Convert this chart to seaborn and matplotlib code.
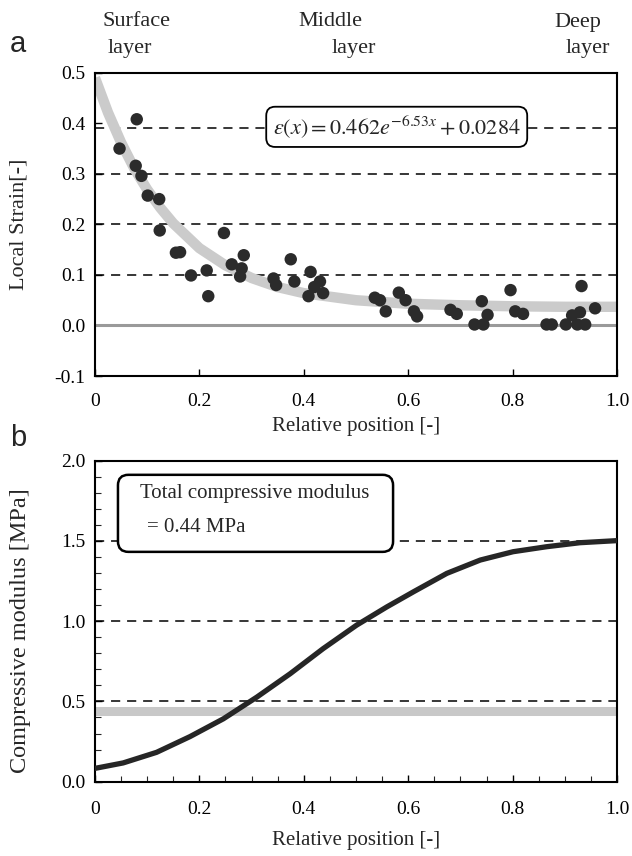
import numpy as np
import pandas as pd
import matplotlib
matplotlib.use("Agg")
import matplotlib.pyplot as plt
import seaborn as sns
from matplotlib.patches import FancyBboxPatch
from matplotlib.ticker import MultipleLocator, FuncFormatter

# ===== DATA =====
# panel a: measured local strain vs relative position
pos_a = [0.047, 0.080, 0.078, 0.089, 0.101, 0.123, 0.124, 0.155, 0.163, 0.184,
         0.214, 0.217, 0.247, 0.262, 0.285, 0.281, 0.278, 0.342, 0.347, 0.375,
         0.382, 0.413, 0.431, 0.420, 0.409, 0.437, 0.536, 0.546, 0.557, 0.582,
         0.595, 0.611, 0.617, 0.681, 0.693, 0.727, 0.744, 0.741, 0.752, 0.796,
         0.805, 0.820, 0.865, 0.875, 0.902, 0.932, 0.914, 0.929, 0.924, 0.939,
         0.958]
strain = [0.350, 0.408, 0.316, 0.296, 0.257, 0.250, 0.188, 0.144, 0.145, 0.099,
          0.109, 0.058, 0.183, 0.121, 0.139, 0.113, 0.097, 0.093, 0.080, 0.131,
          0.087, 0.106, 0.087, 0.076, 0.058, 0.064, 0.055, 0.050, 0.028, 0.065,
          0.050, 0.028, 0.018, 0.031, 0.023, 0.002, 0.002, 0.048, 0.021, 0.070,
          0.028, 0.023, 0.002, 0.002, 0.002, 0.078, 0.020, 0.026, 0.002, 0.002,
          0.034]

# fitted curve (grey band)
fit_x = [0, 0.025, 0.05, 0.075, 0.1, 0.125, 0.15, 0.2, 0.25, 0.3, 0.35, 0.4,
         0.5, 0.6, 0.7, 0.8, 0.9, 1.0]
fit_y = [0.49, 0.421, 0.362, 0.311, 0.269, 0.233, 0.202, 0.153, 0.119, 0.094,
         0.076, 0.064, 0.050, 0.043, 0.040, 0.038, 0.037, 0.037]

# panel b: compressive modulus profile
pos_b = [0.0, 0.054, 0.118, 0.182, 0.246, 0.310, 0.374, 0.437, 0.501, 0.559,
         0.610, 0.674, 0.738, 0.801, 0.865, 0.929, 1.0]
modulus = [0.083, 0.117, 0.183, 0.281, 0.392, 0.527, 0.673, 0.829, 0.975, 1.089,
           1.183, 1.298, 1.381, 1.433, 1.464, 1.489, 1.502]
total_modulus = 0.44

layer_names = ["Surface", "Middle", "Deep"]

strain_df = pd.DataFrame({"pos": pos_a, "strain": strain})
fit_df = pd.DataFrame({"pos": fit_x, "strain": fit_y})
mod_df = pd.DataFrame({"pos": pos_b, "modulus": modulus})

# ===== STYLE =====
sns.set_theme(style="white")
plt.rcParams["font.family"] = ["Liberation Serif", "DejaVu Serif"]
plt.rcParams["mathtext.fontset"] = "stix"
plt.rcParams["xtick.direction"] = "in"
plt.rcParams["ytick.direction"] = "in"

fig = plt.figure(figsize=(6.32, 8.56), dpi=100)
ax1 = fig.add_axes([0.1503, 0.5607, 0.826, 0.3543])
ax2 = fig.add_axes([0.1503, 0.0868, 0.826, 0.375])

dash = (0, (6, 4.5))
fmt = FuncFormatter(lambda v, p: "0" if abs(v) < 1e-9 else f"{v:.1f}")
yfmt = FuncFormatter(lambda v, p: f"{v:.1f}".replace("-0.0", "0.0"))

# ===== PANEL A =====
for yv in [0.39, 0.3, 0.2, 0.1]:
    ax1.axhline(yv, color="black", lw=1.1, ls=dash, zorder=1)
ax1.axhline(0.0, color="#9a9a9a", lw=2.2, zorder=1)
sns.lineplot(data=fit_df, x="pos", y="strain", ax=ax1, color="#cbcbcb", lw=7.5,
             solid_capstyle="butt", zorder=2)
sns.scatterplot(data=strain_df, x="pos", y="strain", ax=ax1, color="#2b2b2b",
                s=80, edgecolor="none", zorder=3)

ax1.set_xlim(0, 1.0)
ax1.set_ylim(-0.1, 0.5)
ax1.xaxis.set_major_locator(MultipleLocator(0.2))
ax1.yaxis.set_major_locator(MultipleLocator(0.1))
ax1.xaxis.set_major_formatter(fmt)
ax1.yaxis.set_major_formatter(yfmt)
ax1.set_xlabel("Relative position [-]", fontsize=15)
ax1.set_ylabel("Local Strain[-]", fontsize=16)
ax1.xaxis.set_label_coords(0.5, -0.135)
ax1.yaxis.set_label_coords(-0.128, 0.5)
ax1.text(0.578, 0.393, r"$\varepsilon(x) = 0.462e^{-6.53x} + 0.0284$", fontsize=16,
         ha="center", va="center", zorder=4,
         bbox=dict(boxstyle="round,pad=0.3,rounding_size=0.4", fc="white",
                   ec="black", lw=1.3))

# ===== PANEL B =====
for yv in [1.5, 1.0, 0.5]:
    ax2.axhline(yv, color="black", lw=1.1, ls=dash, zorder=1)
ax2.axhline(total_modulus, color="#c8c8c8", lw=6.5, zorder=2)
sns.lineplot(data=mod_df, x="pos", y="modulus", ax=ax2, color="#262626", lw=3.8,
             zorder=3)

ax2.set_xlim(0, 1.0)
ax2.set_ylim(0, 2.0)
ax2.xaxis.set_major_locator(MultipleLocator(0.2))
ax2.xaxis.set_minor_locator(MultipleLocator(0.05))
ax2.yaxis.set_major_locator(MultipleLocator(0.5))
ax2.yaxis.set_minor_locator(MultipleLocator(0.1))
ax2.xaxis.set_major_formatter(fmt)
ax2.yaxis.set_major_formatter(yfmt)
ax2.set_xlabel("Relative position [-]", fontsize=15)
ax2.set_ylabel("Compressive modulus [MPa]", fontsize=17.5)
ax2.xaxis.set_label_coords(0.5, -0.155)
ax2.yaxis.set_label_coords(-0.122, 0.47)

box_w, box_h = 522.0, 320.7
ax2.add_patch(FancyBboxPatch((0.044, 0.716), 0.527, 0.24,
                             boxstyle="round,pad=0,rounding_size=0.02",
                             mutation_aspect=box_w / box_h,
                             transform=ax2.transAxes, fc="white", ec="black",
                             lw=1.8, zorder=4))
ax2.text(0.086, 0.897, "Total compressive modulus", fontsize=15,
         transform=ax2.transAxes, ha="left", va="center", zorder=5)
ax2.text(0.100, 0.793, "= 0.44 MPa", fontsize=15,
         transform=ax2.transAxes, ha="left", va="center", zorder=5)

for ax in (ax1, ax2):
    for sp in ax.spines.values():
        sp.set_visible(True)
        sp.set_color("black")
        sp.set_linewidth(1.5)
    ax.tick_params(axis="both", which="major", labelsize=14, length=5, width=1,
                   colors="black", left=True, bottom=True, right=False, top=False)
    ax.tick_params(axis="y", which="major", pad=7)
    ax.tick_params(axis="both", which="minor", length=4, width=0.8, left=True,
                   bottom=True, right=False, top=False)
ax1.tick_params(axis="x", which="major", pad=12)
ax2.tick_params(axis="x", which="major", pad=14)

# ===== LAYER LABELS AND PANEL LETTERS =====
W, H = 632, 856
layer_pos = [(136, 130), (330, 354), (578, 588)]
for name, (xa, xb) in zip(layer_names, layer_pos):
    fig.text(xa / W, 1 - 22 / H, name, fontsize=16, ha="center", va="center")
    fig.text(xb / W, 1 - 49 / H, "layer", fontsize=16, ha="center", va="center")

fig.text(18 / W, 1 - 44 / H, "a", fontsize=21, family="Liberation Sans",
         ha="center", va="center")
fig.text(18 / W, 1 - 438 / H, "b", fontsize=21, family="Liberation Sans",
         ha="center", va="center")

fig.savefig("out.png", dpi=100)
